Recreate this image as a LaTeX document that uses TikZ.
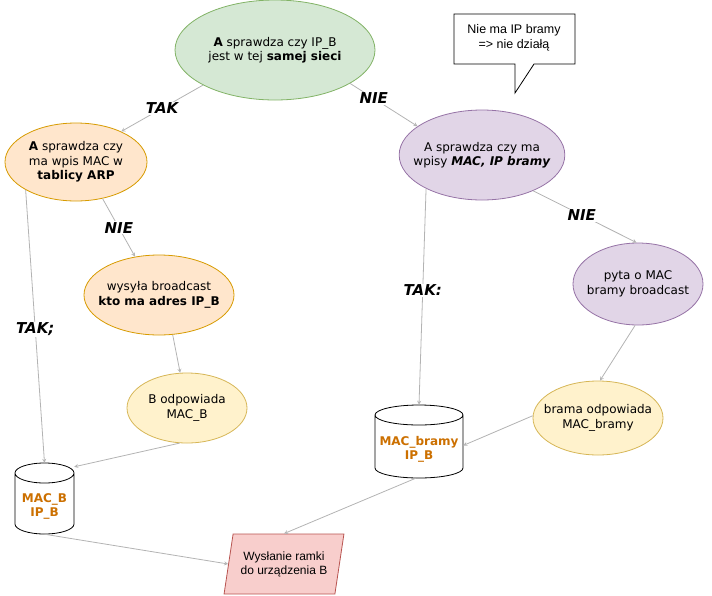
\documentclass[tikz,border=0pt]{standalone}
\usepackage{fontspec}
\setmainfont{DejaVu Sans}
\newfontfamily\arialfont{Liberation Sans}
\usetikzlibrary{shapes.geometric}

\definecolor{greenF}{HTML}{D5E8D4}
\definecolor{greenD}{HTML}{82B366}
\definecolor{orangeF}{HTML}{FFE6CC}
\definecolor{orangeD}{HTML}{D79B00}
\definecolor{purpleF}{HTML}{E1D5E7}
\definecolor{purpleD}{HTML}{9673A6}
\definecolor{yellowF}{HTML}{FFF2CC}
\definecolor{yellowD}{HTML}{D6B656}
\definecolor{redF}{HTML}{F8CECC}
\definecolor{redD}{HTML}{B85450}
\definecolor{dbText}{HTML}{CC7000}
\definecolor{lineGray}{HTML}{B3B3B3}

\tikzset{
  blob/.style={ellipse, draw, line width=0.8pt, align=center, inner xsep=-10pt, inner ysep=0pt,
    font=\fontsize{12}{14.5}\selectfont},
  greenblob/.style={blob, draw=greenD, fill=greenF},
  orangeblob/.style={blob, draw=orangeD, fill=orangeF},
  purpleblob/.style={blob, draw=purpleD, fill=purpleF},
  yellowblob/.style={blob, draw=yellowD, fill=yellowF},
  dbshape/.style={draw, line width=0.8pt, fill=white},
  dbbox/.style={rectangle, inner sep=0pt},
  dbtext/.style={align=center, text=dbText, yshift=-8pt, font=\fontsize{12}{14}\selectfont\bfseries},
  flow/.style={->, >=stealth, draw=lineGray, line width=0.8pt},
  answer/.style={fill=white, inner sep=1pt, font=\fontsize{15}{18}\selectfont\bfseries\itshape},
}

\begin{document}
\begin{tikzpicture}[x=1pt, y=-1pt]
    \useasboundingbox (0,0) rectangle (712,595);

    % decisions and steps
    \node [greenblob, minimum width=200pt, minimum height=100pt] (same) at (275,50)
        {\textbf{A} sprawdza czy IP\_B\\jest w tej \textbf{samej sieci}};
    \node [orangeblob, minimum width=142pt, minimum height=78pt] (arp) at (76,162)
        {\textbf{A} sprawdza czy\\ma wpis MAC w\\\textbf{tablicy ARP}};
    \node [purpleblob, minimum width=150pt, minimum height=90pt] (gw) at (482,155)
        {A sprawdza czy ma\\wpisy \textbf{\itshape MAC, IP bramy}};
    \node [orangeblob, minimum width=150pt, minimum height=80pt] (bc) at (159,295)
        {wysyła broadcast\\\textbf{kto ma adres IP\_B}};
    \node [yellowblob, minimum width=120pt, minimum height=70pt] (brep) at (187,408)
        {B odpowiada\\MAC\_B};
    \node [purpleblob, minimum width=130pt, minimum height=82pt] (gwq) at (638,284)
        {pyta o MAC\\bramy broadcast};
    \node [yellowblob, minimum width=130pt, minimum height=74pt] (gwrep) at (598,418)
        {brama odpowiada\\MAC\_bramy};

    % tables
    \draw [dbshape] (375,415) -- (375,468) arc [start angle=180, end angle=360, x radius=44pt, y radius=10pt]
        -- (463,415) arc [start angle=0, end angle=180, x radius=44pt, y radius=10pt] -- cycle
        (375,415) arc [start angle=180, end angle=360, x radius=44pt, y radius=10pt];
    \node [dbbox, minimum width=88pt, minimum height=73pt,
        label={[dbtext]center:{MAC\_bramy\\IP\_B}}] (dbgw) at (419,441.5) {};
    \draw [dbshape] (15,473) -- (15,524) arc [start angle=180, end angle=360, x radius=29.5pt, y radius=10pt]
        -- (74,473) arc [start angle=0, end angle=180, x radius=29.5pt, y radius=10pt] -- cycle
        (15,473) arc [start angle=180, end angle=360, x radius=29.5pt, y radius=10pt];
    \node [dbbox, minimum width=59pt, minimum height=71pt,
        label={[dbtext]center:{MAC\_B\\IP\_B}}] (dbb) at (44.5,498.5) {};

    % result
    \node [trapezium, trapezium left angle=73, trapezium right angle=107, trapezium stretches=true,
        minimum width=120pt, minimum height=60pt, draw=redD, fill=redF, line width=0.8pt,
        align=center, inner sep=0pt, font=\arialfont\fontsize{12}{14}\selectfont] (send) at (284,564)
        {Wysłanie ramki\\do urządzenia B};

    % note
    \draw [fill=white, line width=0.8pt] (454,14) -- (575,14) -- (575,64) -- (534,64) -- (515,93)
        -- (515,64) -- (454,64) -- cycle;
    \node [align=center, font=\arialfont\fontsize{12.5}{15}\selectfont] (note) at (514,38)
        {Nie ma IP bramy\\=> nie działą};

    % connectors
    \draw [flow] (same.206) -- node [answer] {TAK} (arp.34);
    \draw [flow] (same.336) -- node [answer, pos=0.35] {NIE} (gw.156);
    \draw [flow] (arp.306) -- node [answer] {NIE} (bc.122);
    \draw [flow] (arp.209) -- node [answer, pos=0.51] {TAK;} (dbb.north);
    \draw [flow] (bc.289) -- (brep.101);
    \draw [flow] (brep.258) -- ([yshift=-4pt]dbb.north east);
    \draw [flow] (gw.325) -- node [answer, pos=0.47] {NIE} (gwq.92);
    \draw [flow] (gw.211) -- node [answer, pos=0.47] {TAK:} (dbgw.north);
    \draw [flow] (gwq.266) -- (gwrep.87);
    \draw [flow] (gwrep.178) -- ([yshift=-4pt]dbgw.east);
    \draw [flow] (dbgw.265) -- (send.north);
    \draw [flow] (dbb.south) -- (send.west);
\end{tikzpicture}
\end{document}
